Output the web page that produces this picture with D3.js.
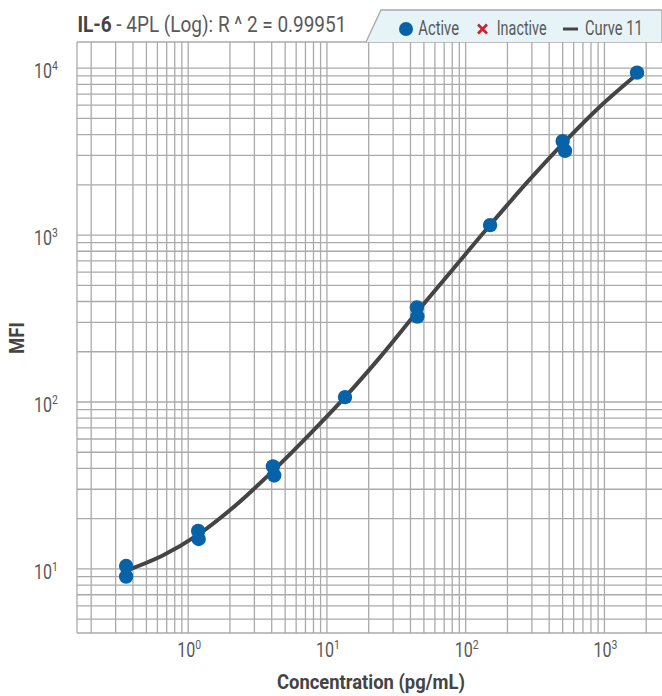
<!DOCTYPE html>
<html>
<head>
<meta charset="utf-8">
<script src="https://cdn.jsdelivr.net/npm/d3@7"></script>
<style>
  body { margin: 0; background: #fff; }
  svg { display: block; font-family: "Roboto", "Liberation Sans", sans-serif; }
</style>
</head>
<body>
<svg id="chart" width="662" height="696"></svg>
<script>
// analyte + fit text
const analyte = "IL-6";
const fitLabel = " - 4PL (Log): R ^ 2 = 0.99951";

// standards (active points)
const stdConc = [0.357, 0.357, 1.18, 1.19, 4.08, 4.17, 13.5, 44.5, 44.9, 150, 500, 520, 1718];
const stdMfi  = [10.4, 9.0, 16.9, 15.1, 41.1, 36.3, 107, 368, 325, 1148, 3656, 3199, 9400];

// fitted curve (Curve 11)
const curveConc = [0.3575, 0.65, 1.18, 2.18, 4.1, 7.44, 13.5, 24.6, 44.7, 81.2, 150, 277, 512, 930, 1718];
const curveMfi  = [9.77, 12.0, 16.05, 23.9, 38.8, 63.6, 107, 189, 347, 627, 1149, 2067, 3593, 5899, 9200];

// axis
const xDomain = [0.158, 2600];
const yDomain = [4.13, 14350];
const xTickPowers = [0, 1, 2, 3];
const yTickPowers = [1, 2, 3, 4];
const legendItems = ["Active", "Inactive", "Curve 11"];

const W = 662, H = 696;
const margin = { top: 42, right: 0, bottom: 63, left: 77 };
const innerW = W - margin.left - margin.right;
const innerH = H - margin.top - margin.bottom;

const gridColor = "#aaaaaa";
const textColor = "#595959";
const blue = "#0862a8";

const svg = d3.select("#chart");

const x = d3.scaleLog().domain(xDomain).range([margin.left, margin.left + innerW]);
const y = d3.scaleLog().domain(yDomain).range([margin.top + innerH, margin.top]);

// the reference uses a condensed face: squeeze text horizontally to a width
function squeezed(parent, px, py, width, anchor, rotate) {
    const g = parent.append("g");
    const txt = g.append("text").attr("x", 0).attr("y", 0);
    return {
        txt,
        fit() {
            const w = txt.node().getComputedTextLength();
            const s = width / w;
            const shift = anchor === "middle" ? -width / 2 : anchor === "end" ? -width : 0;
            g.attr("transform", `translate(${px},${py})` + (rotate ? ` rotate(${rotate})` : "") +
                ` translate(${shift},0) scale(${s},1)`);
        }
    };
}

// grid: every 1..9 x 10^n inside the domain
function gridValues(domain) {
    const out = [];
    for (let p = -2; p <= 5; p++) {
        for (let k = 1; k <= 9; k++) {
            const v = k * Math.pow(10, p);
            if (v > domain[0] && v < domain[1]) out.push(v);
        }
    }
    return out;
}

const grid = svg.append("g").attr("stroke", gridColor).attr("stroke-width", 1.3);
grid.selectAll(".vg").data(gridValues(xDomain)).join("line")
    .attr("x1", d => x(d)).attr("x2", d => x(d))
    .attr("y1", margin.top).attr("y2", margin.top + innerH);
grid.selectAll(".hg").data(gridValues(yDomain)).join("line")
    .attr("x1", margin.left).attr("x2", margin.left + innerW)
    .attr("y1", d => y(d)).attr("y2", d => y(d));

// frame
grid.append("line").attr("x1", margin.left).attr("x2", margin.left)
    .attr("y1", margin.top).attr("y2", margin.top + innerH);
grid.append("line").attr("x1", margin.left).attr("x2", W)
    .attr("y1", margin.top).attr("y2", margin.top);
grid.append("line").attr("x1", margin.left).attr("x2", W)
    .attr("y1", margin.top + innerH).attr("y2", margin.top + innerH);

// tick labels 10^n
function powLabel(px, py, anchor, p) {
    const lab = squeezed(svg, px, py, 24, anchor);
    lab.txt.attr("font-size", 20).attr("fill", textColor);
    lab.txt.append("tspan").text("10");
    lab.txt.append("tspan").attr("dy", -8).attr("font-size", 13).text(p);
    lab.fit();
}
xTickPowers.forEach(p => powLabel(x(Math.pow(10, p)) + 1, margin.top + innerH + 24, "middle", p));
yTickPowers.forEach(p => powLabel(58, y(Math.pow(10, p)) + 10, "end", p));

// axis titles
const xt = squeezed(svg, 371, 689, 188, "middle");
xt.txt.attr("font-size", 20).attr("font-weight", "bold").attr("fill", "#444").text("Concentration (pg/mL)");
xt.fit();

const yt = squeezed(svg, 24, 338, 32, "middle", -90);
yt.txt.attr("font-size", 20).attr("font-weight", "bold").attr("fill", "#444").text("MFI");
yt.fit();

// curve
const line = d3.line()
    .x((d, i) => x(curveConc[i]))
    .y((d, i) => y(curveMfi[i]))
    .curve(d3.curveCatmullRom);

svg.append("path")
    .datum(curveConc)
    .attr("d", line)
    .attr("fill", "none")
    .attr("stroke", "#444")
    .attr("stroke-width", 4)
    .attr("stroke-linecap", "round");

// points
svg.append("g").selectAll("circle").data(stdConc).join("circle")
    .attr("cx", (d, i) => x(stdConc[i]))
    .attr("cy", (d, i) => y(stdMfi[i]))
    .attr("r", 7.2)
    .attr("fill", blue);

// title
const tt = squeezed(svg, 77.5, 32, 269, "start");
tt.txt.attr("font-size", 22).attr("fill", textColor);
tt.txt.append("tspan").attr("font-weight", "bold").attr("fill", "#444").text(analyte);
tt.txt.append("tspan").text(fitLabel);
tt.fit();

// legend tab
svg.append("path")
    .attr("d", `M366,${margin.top} L381,10 L${W},10 L${W},${margin.top}`)
    .attr("fill", "#e6f4f8")
    .attr("stroke", "#a8a8a8")
    .attr("stroke-width", 1.3);

svg.append("circle").attr("cx", 406).attr("cy", 29).attr("r", 7).attr("fill", blue);
svg.append("path").attr("d", "M478,24.5 L487,33.5 M487,24.5 L478,33.5")
    .attr("stroke", "#d0202e").attr("stroke-width", 2.6);
svg.append("line").attr("x1", 563).attr("x2", 578).attr("y1", 29).attr("y2", 29)
    .attr("stroke", "#444").attr("stroke-width", 3);

const legendPos = [[418.3, 40.7], [496.7, 50], [585, 57.7]];
legendItems.forEach((name, i) => {
    const l = squeezed(svg, legendPos[i][0], 35, legendPos[i][1], "start");
    l.txt.attr("font-size", 20).attr("fill", textColor).text(name);
    l.fit();
});
</script>
</body>
</html>
